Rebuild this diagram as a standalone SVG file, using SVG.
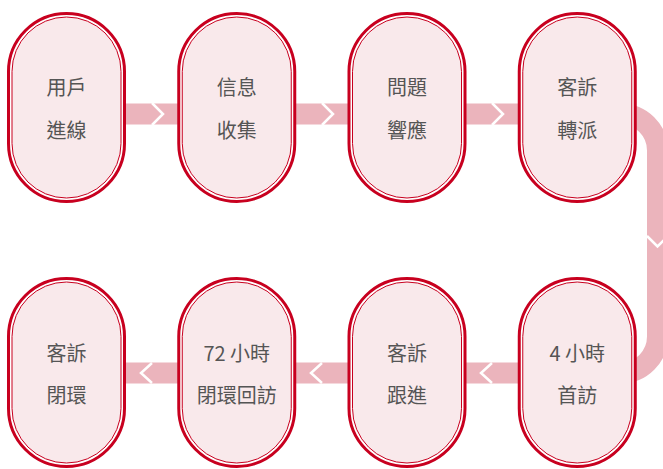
<svg xmlns="http://www.w3.org/2000/svg" width="663" height="469" viewBox="0 0 663 469">
<defs>
<style>
.bar{fill:none;stroke:#ebb4bc;stroke-width:21}
.chev{fill:none;stroke:#ffffff;stroke-width:2.5;stroke-linejoin:miter}
.outer{fill:#ffffff;stroke:#c8001f;stroke-width:3}
.inner{fill:#f9e9eb;stroke:#c8001f;stroke-width:1}
.t{font-family:"Noto Sans CJK TC","Noto Sans",sans-serif;font-size:20px;fill:#555555;text-anchor:middle}
</style>
</defs>
<rect width="663" height="469" fill="#ffffff"/>
<g id="connectors">
<path class="bar" d="M110 114 H195"/>
<path class="bar" d="M280 114 H365"/>
<path class="bar" d="M450 114 H535"/>
<path class="bar" d="M600 114 H621 A36.5 36.5 0 0 1 657.5 150.5 V336.5 A36.5 36.5 0 0 1 621 373 H600"/>
<path class="bar" d="M535 373 H450"/>
<path class="bar" d="M365 373 H280"/>
<path class="bar" d="M195 373 H110"/>
<polyline class="chev" points="152,103 163,114 152,125"/>
<polyline class="chev" points="322,103 333,114 322,125"/>
<polyline class="chev" points="492,103 503,114 492,125"/>
<polyline class="chev" points="647,236 657.5,246.5 668,236"/>
<polyline class="chev" points="492,363 481,373 492,383"/>
<polyline class="chev" points="322,363 311,373 322,383"/>
<polyline class="chev" points="152,363 141,373 152,383"/>
</g>
<g id="n1">
<rect class="outer" x="8.5" y="13.5" width="116" height="188" rx="58"/>
<rect class="inner" x="12" y="17" width="109" height="181" rx="54.5"/>
<text class="t" x="66.5" y="95">用戶</text>
<text class="t" x="66.5" y="137.5">進線</text>
</g>
<g id="n2">
<rect class="outer" x="178.75" y="13.5" width="116" height="188" rx="58"/>
<rect class="inner" x="182.25" y="17" width="109" height="181" rx="54.5"/>
<text class="t" x="236.75" y="95">信息</text>
<text class="t" x="236.75" y="137.5">收集</text>
</g>
<g id="n3">
<rect class="outer" x="349" y="13.5" width="116" height="188" rx="58"/>
<rect class="inner" x="352.5" y="17" width="109" height="181" rx="54.5"/>
<text class="t" x="407" y="95">問題</text>
<text class="t" x="407" y="137.5">響應</text>
</g>
<g id="n4">
<rect class="outer" x="519.25" y="13.5" width="116" height="188" rx="58"/>
<rect class="inner" x="522.75" y="17" width="109" height="181" rx="54.5"/>
<text class="t" x="577.25" y="95">客訴</text>
<text class="t" x="577.25" y="137.5">轉派</text>
</g>
<g id="n5">
<rect class="outer" x="519.25" y="278.5" width="116" height="188" rx="58"/>
<rect class="inner" x="522.75" y="282" width="109" height="181" rx="54.5"/>
<text class="t" x="577.25" y="360.5">4 小時</text>
<text class="t" x="577.25" y="403">首訪</text>
</g>
<g id="n6">
<rect class="outer" x="349" y="278.5" width="116" height="188" rx="58"/>
<rect class="inner" x="352.5" y="282" width="109" height="181" rx="54.5"/>
<text class="t" x="407" y="360.5">客訴</text>
<text class="t" x="407" y="403">跟進</text>
</g>
<g id="n7">
<rect class="outer" x="178.75" y="278.5" width="116" height="188" rx="58"/>
<rect class="inner" x="182.25" y="282" width="109" height="181" rx="54.5"/>
<text class="t" x="236.75" y="360.5">72 小時</text>
<text class="t" x="236.75" y="403">閉環回訪</text>
</g>
<g id="n8">
<rect class="outer" x="8.5" y="278.5" width="116" height="188" rx="58"/>
<rect class="inner" x="12" y="282" width="109" height="181" rx="54.5"/>
<text class="t" x="66.5" y="360.5">客訴</text>
<text class="t" x="66.5" y="403">閉環</text>
</g>
</svg>
